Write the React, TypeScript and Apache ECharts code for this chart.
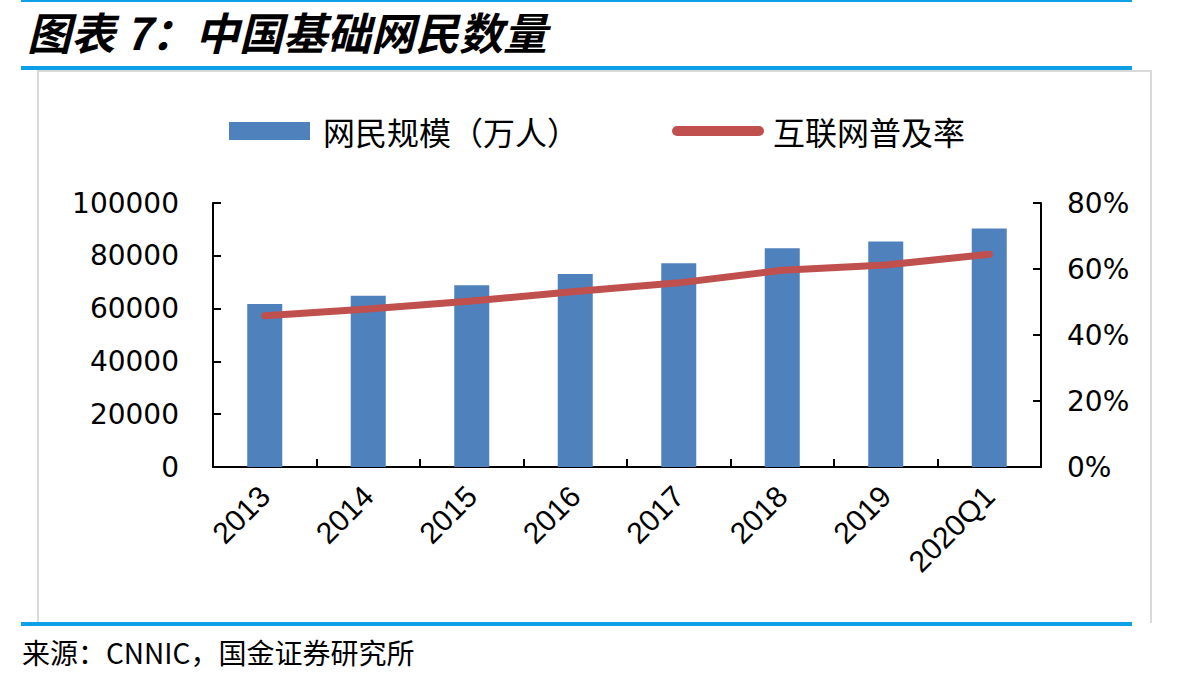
import React, { useEffect, useRef } from "react";
import * as echarts from "echarts";

const categories = ["2013", "2014", "2015", "2016", "2017", "2018", "2019", "2020Q1"];
const netizens = [61758, 64875, 68826, 73125, 77198, 82851, 85449, 90359];
const penetration = [45.8, 47.9, 50.3, 53.2, 55.8, 59.6, 61.2, 64.5];
const leftTicks = { min: 0, max: 100000, interval: 20000 };
const rightTicks = { min: 0, max: 80, interval: 20 };

const TITLE = "图表 7：中国基础网民数量";
const SOURCE = "来源：CNNIC，国金证券研究所";
const BAR_NAME = "网民规模（万人）";
const LINE_NAME = "互联网普及率";

const BLUE = "#4F81BD";
const RED = "#C0504D";
const RULE = "#0EA0E6";
const FRAME = "#D9D9D9";

export default function App() {
  const ref = useRef<HTMLDivElement>(null);
  useEffect(() => {
    if (!ref.current) return;
    const chart = echarts.init(ref.current, null, { renderer: "svg" });
    const axisLine = { show: true, lineStyle: { color: "#000", width: 2 } };
    const axisTick = { show: true, inside: true, length: 8, lineStyle: { color: "#000", width: 2 } };
    chart.setOption({
      animation: false,
      backgroundColor: "#fff",
      title: {
        text: TITLE,
        left: 22,
        top: 4,
        textStyle: {
          fontSize: 44,
          fontWeight: "bold",
          fontStyle: "italic",
          fontFamily: "Noto Sans CJK SC",
          color: "#000",
        },
      },
      legend: [
        {
          data: [BAR_NAME],
          left: 224,
          top: 110,
          itemWidth: 81,
          itemHeight: 18,
          icon: "rect",
          selectedMode: false,
          textStyle: { fontSize: 32, fontFamily: "Noto Sans CJK SC", color: "#000", padding: [0, 0, 0, 8] },
        },
        {
          data: [LINE_NAME],
          left: 667,
          top: 110,
          itemWidth: 92,
          itemHeight: 10,
          icon: "path://M5 0H87A5 5 0 0 1 87 10H5A5 5 0 0 1 5 0Z",
          selectedMode: false,
          itemStyle: { color: RED },
          textStyle: { fontSize: 32, fontFamily: "Noto Sans CJK SC", color: "#000", padding: [0, 0, 0, 4] },
        },
      ],
      grid: { left: 213, right: 140, top: 203, bottom: 217, containLabel: false },
      xAxis: {
        type: "category",
        data: categories,
        boundaryGap: true,
        axisLine,
        axisTick: { ...axisTick, alignWithLabel: false },
        axisLabel: {
          rotate: 45,
          margin: 24,
          fontSize: 30,
          fontFamily: "Liberation Sans",
          color: "#000",
          interval: 0,
        },
      },
      yAxis: [
        {
          type: "value",
          ...leftTicks,
          position: "left",
          axisLine,
          axisTick,
          splitLine: { show: false },
          axisLabel: {
            fontSize: 28,
            fontFamily: "DejaVu Sans",
            color: "#000",
            margin: 34,
            formatter: (v: number) => String(v),
          },
        },
        {
          type: "value",
          ...rightTicks,
          position: "right",
          axisLine,
          axisTick,
          splitLine: { show: false },
          axisLabel: { fontSize: 28, fontFamily: "DejaVu Sans", color: "#000", margin: 26, formatter: "{value}%" },
        },
      ],
      series: [
        {
          name: BAR_NAME,
          type: "bar",
          data: netizens,
          barWidth: 35,
          itemStyle: { color: BLUE },
        },
        {
          name: LINE_NAME,
          type: "line",
          yAxisIndex: 1,
          data: penetration,
          symbol: "none",
          showSymbol: false,
          lineStyle: { color: RED, width: 7, cap: "round", join: "round" },
          itemStyle: { color: RED },
        },
      ],
      graphic: [
        { type: "rect", shape: { x: 21, y: 0, width: 1111, height: 2 }, style: { fill: RULE }, silent: true },
        { type: "rect", shape: { x: 37, y: 70, width: 1115, height: 2 }, style: { fill: FRAME }, silent: true },
        { type: "rect", shape: { x: 37, y: 70, width: 2, height: 553 }, style: { fill: FRAME }, silent: true },
        { type: "rect", shape: { x: 1150, y: 70, width: 2, height: 553 }, style: { fill: FRAME }, silent: true },
        { type: "rect", shape: { x: 21, y: 66, width: 1111, height: 4 }, style: { fill: RULE }, silent: true },
        { type: "rect", shape: { x: 21, y: 622, width: 1111, height: 4 }, style: { fill: RULE }, silent: true },
        {
          type: "text",
          left: 22,
          top: 638,
          style: { text: SOURCE, fontSize: 28, fontFamily: "Noto Sans CJK SC", fill: "#000" },
          silent: true,
        },
      ],
    });
    return () => chart.dispose();
  }, []);
  return (
    <div
      ref={ref}
      style={{ position: "fixed", left: 0, top: 0, width: 1181, height: 684, background: "#fff" }}
    />
  );
}
